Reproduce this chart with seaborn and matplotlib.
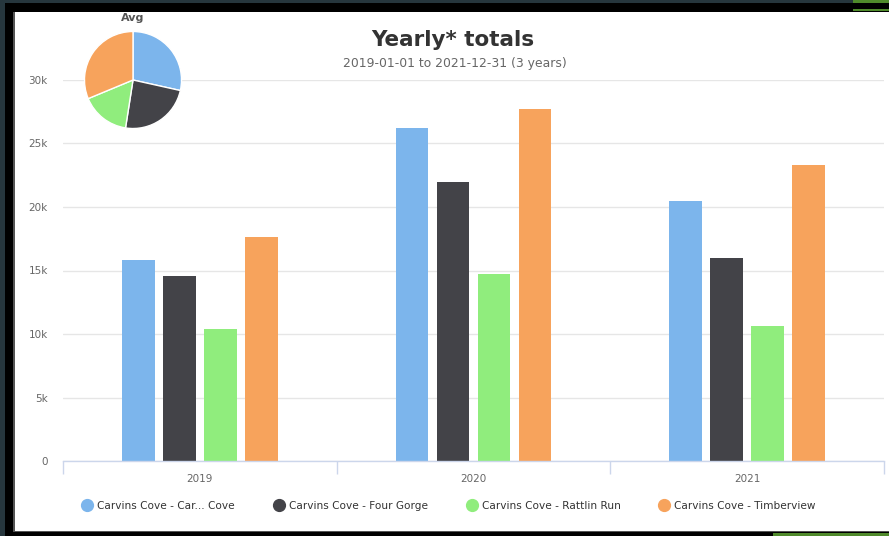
import matplotlib
matplotlib.use("Agg")
import matplotlib.pyplot as plt
import seaborn as sns
import pandas as pd
from matplotlib.patches import Rectangle
from matplotlib.lines import Line2D

# ---- data ----
years = ["2019", "2020", "2021"]
trails = ["Carvins Cove - Car... Cove", "Carvins Cove - Four Gorge",
          "Carvins Cove - Rattlin Run", "Carvins Cove - Timberview"]
car_cove = [15800, 26200, 20500]
four_gorge = [14600, 22000, 16000]
rattlin_run = [10400, 14700, 10600]
timberview = [17600, 27700, 23300]
yticks = [0, 5000, 10000, 15000, 20000, 25000, 30000]
ytick_labels = ["0", "5k", "10k", "15k", "20k", "25k", "30k"]
colors = ["#7cb5ec", "#434348", "#90ed7d", "#f7a35c"]

series = [car_cove, four_gorge, rattlin_run, timberview]
rows = []
for t, vals in zip(trails, series):
    for y, v in zip(years, vals):
        rows.append({"year": y, "trail": t, "value": v})
df = pd.DataFrame(rows)
avg = [sum(v) / len(v) for v in series]

sns.set_theme(style="white")
plt.rcParams["font.family"] = ["DejaVu Sans"]

W, H = 889, 536
fig = plt.figure(figsize=(W / 100, H / 100), dpi=100)
fig.patch.set_facecolor("#26363d")

def fx(px):
    return px / W

def fy(py):
    return 1 - py / H

# frame decorations
fig.patches.append(Rectangle((fx(5), fy(536)), fx(884), 533 / H, transform=fig.transFigure,
                             facecolor="#000000", edgecolor="none", zorder=-3))
fig.patches.append(Rectangle((fx(853), fy(3)), fx(36), 3 / H, transform=fig.transFigure,
                             facecolor="#4f8a2b", edgecolor="none", zorder=-3))
fig.patches.append(Rectangle((fx(853), fy(11)), fx(36), 2 / H, transform=fig.transFigure,
                             facecolor="#4f8a2b", edgecolor="none", zorder=-2))
fig.patches.append(Rectangle((fx(773), fy(536)), fx(116), 3 / H, transform=fig.transFigure,
                             facecolor="#4f8a2b", edgecolor="none", zorder=-2))
fig.patches.append(Rectangle((fx(13), fy(532)), fx(876), 520 / H, transform=fig.transFigure,
                             facecolor="#555555", edgecolor="none", zorder=-2))
fig.patches.append(Rectangle((fx(15), fy(531)), fx(874), 519 / H, transform=fig.transFigure,
                             facecolor="white", edgecolor="none", zorder=-1))

# main axes
left, right, top, bottom = 63, 884, 80, 461
ax = fig.add_axes([fx(left), fy(bottom), fx(right - left), (bottom - top) / H])
ax.set_facecolor("none")
sns.barplot(data=df, x="year", y="value", hue="trail", palette=colors,
            width=0.6, gap=0.2, ax=ax, legend=False, saturation=1,
            linewidth=0, edgecolor="none")
ax.set_xlim(-0.5, 2.5)
ax.set_ylim(0, 30000)
ax.set_yticks(yticks)
ax.set_yticklabels(ytick_labels)
ax.set_axisbelow(True)
ax.yaxis.grid(True, color="#e6e6e6", linewidth=1)
ax.xaxis.grid(False)
for s in ["top", "left", "right"]:
    ax.spines[s].set_visible(False)
ax.spines["bottom"].set_color("#ccd6eb")
ax.spines["bottom"].set_linewidth(1)
ax.set_xlabel("")
ax.set_ylabel("")
ax.tick_params(axis="y", length=0, pad=11, labelsize=7.5, labelcolor="#666666")
ax.tick_params(axis="x", which="major", length=0, pad=9, labelsize=7.5, labelcolor="#666666")
ax.set_xticks([-0.5, 0.5, 1.5, 2.5], minor=True)
ax.tick_params(axis="x", which="minor", bottom=True, length=9, color="#ccd6eb",
               width=1, direction="out")
for lab in ax.get_yticklabels():
    lab.set_horizontalalignment("right")

# title
fig.text(fx(453), fy(40), "Yearly* totals", ha="center", va="center",
         fontsize=15.5, fontweight="bold", color="#333333")
fig.text(fx(455), fy(64), "2019-01-01 to 2021-12-31 (3 years)", ha="center", va="center",
         fontsize=8.9, color="#666666")

# legend
handles = [Line2D([0], [0], marker="o", linestyle="none", markersize=8.5,
                  markerfacecolor=c, markeredgecolor=c) for c in colors]
leg = fig.legend(handles, trails, loc="center", bbox_to_anchor=(fx(449), fy(506)),
                 ncol=4, frameon=False, fontsize=7.6, handletextpad=0.45,
                 columnspacing=3.65, handlelength=1.0)
for t in leg.get_texts():
    t.set_color("#333333")

# pie inset
cx, cy, r = 133, 80, 49
pax = fig.add_axes([fx(cx - r), fy(cy + r), 2 * r / W, 2 * r / H])
pax.pie(avg, colors=colors, startangle=90, counterclock=False,
        wedgeprops=dict(edgecolor="white", linewidth=1))
pax.set_xlim(-1.01, 1.01)
pax.set_ylim(-1.01, 1.01)
pax.set_aspect("equal")
pax.axis("off")
fig.text(fx(133), fy(18), "Avg", ha="center", va="center", fontsize=8,
         fontweight="bold", color="#555555")

fig.savefig("out.png", dpi=100, facecolor=fig.get_facecolor())
